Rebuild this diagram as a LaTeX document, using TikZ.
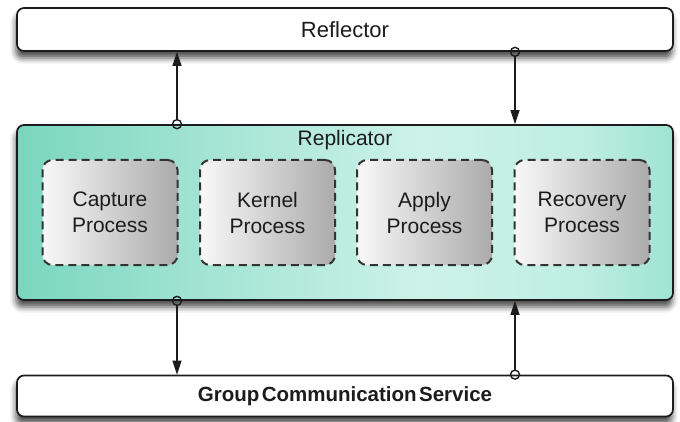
\documentclass[tikz,border=0pt]{standalone}
\usepackage{fontspec}
\setmainfont{Liberation Sans}
\usetikzlibrary{arrows.meta,shadows.blur}

\definecolor{ink}{HTML}{1C1C1C}
\definecolor{tealdark}{HTML}{7AD6BF}
\definecolor{teallight}{HTML}{CDF2E8}
\definecolor{tealright}{HTML}{9EE4D2}
\definecolor{procleft}{HTML}{F8F8F8}
\definecolor{procright}{HTML}{ABABAB}

% horizontal teal band: the node spans 25bp..75bp of the shading
\pgfdeclarehorizontalshading{repshade}{100bp}{
  color(0bp)=(tealdark); color(25bp)=(tealdark);
  color(38bp)=(tealdark!55!teallight); color(56bp)=(teallight);
  color(68bp)=(teallight!70!tealright); color(75bp)=(tealright);
  color(100bp)=(tealright)}

\tikzset{
  layerbox/.style={draw=ink, line width=1.7pt, rounded corners=7pt,
    minimum width=656pt, inner sep=0pt,
    blur shadow={shadow xshift=-1pt, shadow yshift=-7pt,
      shadow blur radius=6pt, shadow opacity=70}},
  procbox/.style={draw=ink!90, line width=2pt, dash pattern=on 8pt off 5pt,
    rounded corners=10pt, minimum width=135pt, minimum height=105pt,
    left color=procleft, right color=procright,
    text=ink, align=center, font=\fontsize{21}{26}\selectfont},
  conn/.style={draw=ink, line width=1.4pt,
    -{Triangle[length=14pt,width=9pt]}},
  port/.style={draw=ink, line width=1.4pt}
}

\begin{document}
\begin{tikzpicture}[x=1pt,y=-1pt]
\useasboundingbox (0,0) rectangle (680,422);

% the three layers
\node[layerbox, fill=white, minimum height=43pt, text=ink,
      font=\fontsize{22}{26}\selectfont] (refl) at (345,29.5) {Reflector};
\node[layerbox, minimum height=175pt, shading=repshade] (rep) at (345,212.5) {};
\node[text=ink, font=\fontsize{21}{26}\selectfont] (reptitle) at (345,140) {Replicator};
\node[layerbox, fill=white, minimum height=41pt, text=ink,
      font=\bfseries\fontsize{20.5}{24}\selectfont] (gcs) at (345,396)
      {\spaceskip=0.12em Group Communication Service};

% processes inside the replicator
\node[procbox] (cap) at (110,212.5) {Capture\\Process};
\node[procbox] (ker) at (267.5,212.5) {Kernel\\Process};
\node[procbox] (app) at (424.5,212.5) {Apply\\Process};
\node[procbox] (rec) at (582,212.5) {Recovery\\Process};

% columns of the connectors
\coordinate (colL) at (177,0);
\coordinate (colR) at (515,0);
\coordinate (p1) at (rep.north -| colL);
\coordinate (p2) at (refl.south -| colR);
\coordinate (p3) at (rep.south -| colL);
\coordinate (p4) at (gcs.north -| colR);

% replicator -> reflector
\draw[conn] ([yshift=4.5pt]p1) -- (refl.south -| colL);
\draw[port] (p1) circle (4.5pt);
% reflector -> replicator
\draw[conn] ([yshift=-4.5pt]p2) -- (rep.north -| colR);
\draw[port] (p2) circle (4.5pt);
% replicator -> group communication
\draw[conn] ([yshift=-4.5pt]p3) -- (gcs.north -| colL);
\draw[port] (p3) circle (4.5pt);
% group communication -> replicator
\draw[conn] ([yshift=4.5pt]p4) -- (rep.south -| colR);
\draw[port] (p4) circle (4.5pt);
\end{tikzpicture}
\end{document}
